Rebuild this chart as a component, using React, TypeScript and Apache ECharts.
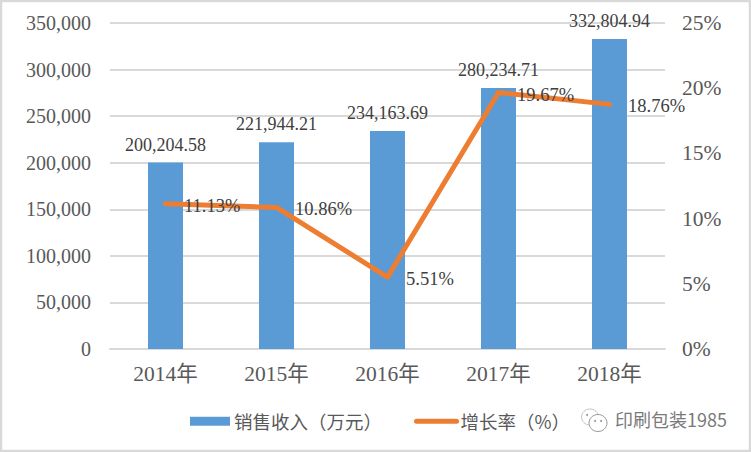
import React, { useEffect, useRef } from "react";
import * as echarts from "echarts";

const categories = ["2014年", "2015年", "2016年", "2017年", "2018年"];
const revenue = [200204.58, 221944.21, 234163.69, 280234.71, 332804.94];
const growth = [11.13, 10.86, 5.51, 19.67, 18.76];
const revenueName = "销售收入（万元）";
const growthName = "增长率（%）";
const watermark = "印刷包装1985";
const serif = "'Liberation Serif', 'Noto Sans CJK SC', serif";
const cjk = "'Noto Sans CJK SC', 'Liberation Serif', sans-serif";

const fmt = (v: number, d = 0) =>
  v.toLocaleString("en-US", { minimumFractionDigits: d, maximumFractionDigits: d });

export default function App() {
  const ref = useRef<HTMLDivElement>(null);
  useEffect(() => {
    document.body.style.margin = "0";
    const chart = echarts.init(ref.current!, undefined, { renderer: "svg" });
    chart.setOption({
      animation: false,
      backgroundColor: "#fff",
      grid: { left: 110, right: 86, top: 23, bottom: 103 },
      legend: {
        left: 185,
        top: 407,
        itemGap: 32,
        itemWidth: 40,
        itemHeight: 9,
        textStyle: { fontFamily: cjk, fontSize: 18.5, color: "#595959", padding: [0, 0, 0, -1] },
        data: [
          { name: revenueName, icon: "rect" },
          {
            name: growthName,
            itemStyle: { opacity: 0 },
            lineStyle: { color: "#ed7d31", width: 5, cap: "round" },
          },
        ],
      },
      xAxis: {
        type: "category",
        data: categories,
        axisTick: { show: false },
        axisLine: { lineStyle: { color: "#d9d9d9", width: 2 } },
        axisLabel: { fontFamily: serif, fontSize: 21.5, color: "#595959", margin: 14 },
      },
      yAxis: [
        {
          type: "value",
          min: 0,
          max: 350000,
          interval: 50000,
          axisLine: { show: false },
          axisTick: { show: false },
          splitLine: { lineStyle: { color: "#d9d9d9", width: 2 } },
          axisLabel: {
            fontFamily: serif,
            fontSize: 20,
            color: "#595959",
            margin: 19,
            formatter: (v: number) => fmt(v),
          },
        },
        {
          type: "value",
          min: 0,
          max: 25,
          interval: 5,
          axisLine: { show: false },
          axisTick: { show: false },
          splitLine: { show: false },
          axisLabel: {
            fontFamily: serif,
            fontSize: 21.5,
            color: "#595959",
            margin: 17,
            formatter: (v: number) => `${v}%`,
          },
        },
      ],
      series: [
        {
          name: revenueName,
          type: "bar",
          data: revenue,
          barWidth: 35,
          itemStyle: { color: "#5b9bd5" },
          label: {
            show: true,
            position: "top",
            distance: 9,
            fontFamily: serif,
            fontSize: 18,
            color: "#404040",
            formatter: (p: any) => fmt(p.value, 2),
          },
        },
        {
          name: growthName,
          type: "line",
          yAxisIndex: 1,
          data: growth,
          symbol: "circle",
          symbolSize: 1,
          showSymbol: true,
          lineStyle: { color: "#ed7d31", width: 5, cap: "round", join: "round" },
          itemStyle: { color: "#ed7d31" },
          label: {
            show: true,
            position: "right",
            distance: 5,
            offset: [13, 2],
            fontFamily: serif,
            fontSize: 18.5,
            color: "#404040",
            formatter: (p: any) => `${fmt(p.value, 2)}%`,
          },
        },
      ],
      graphic: [
        {
          type: "rect",
          shape: { x: 1, y: 1, width: 749, height: 450 },
          style: { fill: "none", stroke: "#d9d9d9", lineWidth: 2.5 },
          silent: true,
        },
        {
          type: "group",
          x: 581,
          y: 408,
          silent: true,
          children: [
            { type: "ellipse", shape: { cx: 9, cy: 9, rx: 8.5, ry: 8 }, style: { fill: "#fff", stroke: "#c4c4c4", lineWidth: 1 } },
            { type: "ellipse", shape: { cx: 17, cy: 15, rx: 9, ry: 8.5 }, style: { fill: "#fff", stroke: "#999", lineWidth: 1 } },
            { type: "circle", shape: { cx: 6, cy: 7, r: 1 }, style: { fill: "#999" } },
            { type: "circle", shape: { cx: 14, cy: 13, r: 1 }, style: { fill: "#999" } },
            { type: "circle", shape: { cx: 20, cy: 13, r: 1 }, style: { fill: "#999" } },
          ],
        },
        {
          type: "text",
          x: 615,
          y: 410,
          silent: true,
          style: { text: watermark, fontFamily: cjk, fontSize: 18, fill: "#7a7a7a" },
        },
      ],
    });
    return () => chart.dispose();
  }, []);
  return <div ref={ref} style={{ width: 751, height: 452 }} />;
}
